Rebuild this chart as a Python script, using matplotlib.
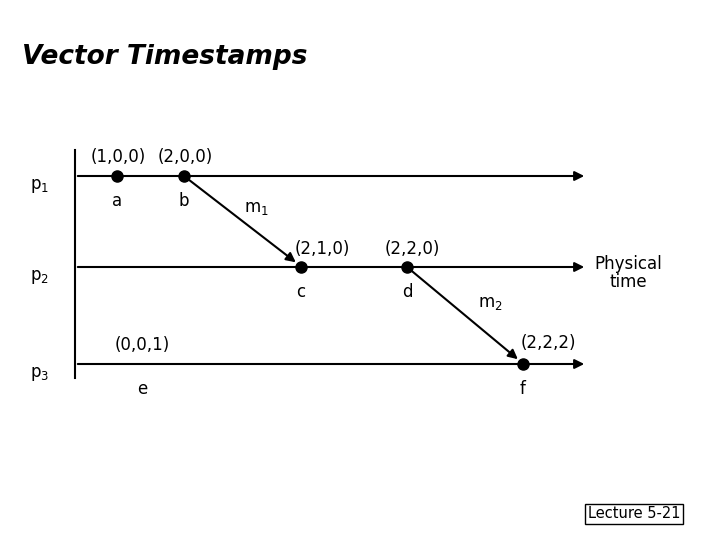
import matplotlib
matplotlib.use("Agg")
import matplotlib.pyplot as plt

processes = ["p$_1$", "p$_2$", "p$_3$"]
proc_y = [176, 267, 364]
events = ["a", "b", "c", "d", "e", "f"]
event_x = [117, 184, 301, 407, 142, 523]
event_proc = [0, 0, 1, 1, 2, 2]
event_dot = [True, True, True, True, False, True]
stamps = ["(1,0,0)", "(2,0,0)", "(2,1,0)", "(2,2,0)", "(0,0,1)", "(2,2,2)"]
stamp_pos = [(118, 157), (185, 157), (322, 249), (412, 249), (142, 345), (548, 343)]
messages = [("m$_1$", 1, 2, (256, 208)), ("m$_2$", 3, 5, (490, 303))]

fig = plt.figure(figsize=(7.2, 5.4), dpi=100)
ax = fig.add_axes([0, 0, 1, 1])
ax.set_xlim(0, 720); ax.set_ylim(540, 0); ax.axis("off")

ax.text(22, 57, "Vector Timestamps", fontsize=19, fontweight="bold", fontstyle="italic", va="center", ha="left")

ax.plot([75, 75], [150, 378], color="black", lw=1.5)
for name, y in zip(processes, proc_y):
    ax.annotate("", xy=(587, y), xytext=(75, y),
                arrowprops=dict(arrowstyle="-|>", color="black", lw=1.5, mutation_scale=14))
    ax.text(30, y + 10, name, fontsize=12, va="center", ha="left")

for n, x, p, d, s, sp in zip(events, event_x, event_proc, event_dot, stamps, stamp_pos):
    y = proc_y[p]
    if d:
        ax.plot(x, y, "o", color="black", ms=8)
    ax.text(x, y + 25, n, fontsize=12, ha="center", va="center")
    ax.text(sp[0], sp[1], s, fontsize=12, ha="center", va="center")

for lab, i, j, lp in messages:
    x0, y0 = event_x[i], proc_y[event_proc[i]]
    x1, y1 = event_x[j], proc_y[event_proc[j]]
    ax.annotate("", xy=(x1 - 3, y1 - 3), xytext=(x0, y0),
                arrowprops=dict(arrowstyle="-|>", color="black", lw=1.5, mutation_scale=14))
    ax.text(lp[0], lp[1], lab, fontsize=12, ha="center", va="center")

ax.text(628, 273, "Physical\ntime", fontsize=12, ha="center", va="center", linespacing=1.0)

ax.text(634, 514, "Lecture 5-21", fontsize=10.5, ha="center", va="center",
        bbox=dict(boxstyle="square,pad=0.2", fc="white", ec="black", lw=1))

fig.savefig("out.png", dpi=100)
